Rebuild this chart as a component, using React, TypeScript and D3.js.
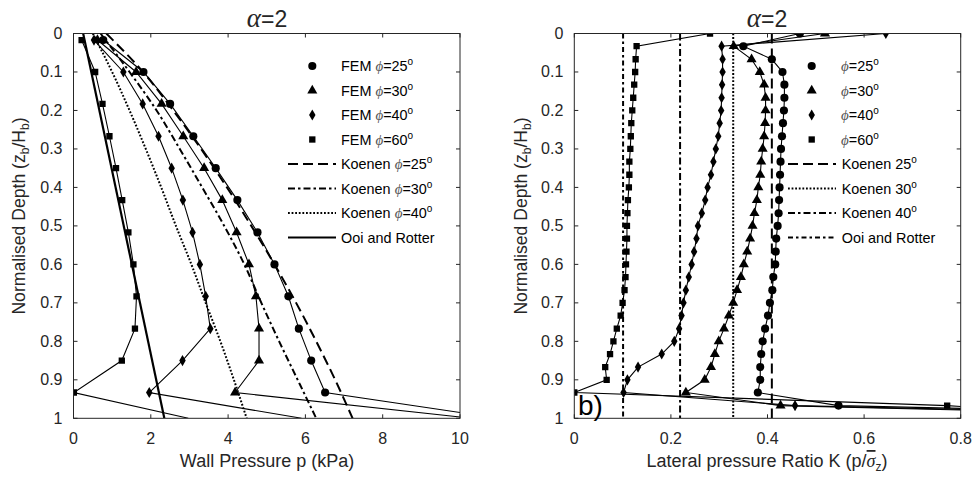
import React from 'react';
import * as d3 from 'd3';

const FONT = '"Liberation Sans", Arial, Helvetica, sans-serif';
const SERIF = '"Liberation Serif", "DejaVu Serif", serif';
const AX = '#262626';

// ---------- Left panel data: wall pressure p (kPa) vs normalised depth ----------
const LEFT_FEM_DEPTH = [0.017, 0.1, 0.183, 0.267, 0.35, 0.433, 0.517, 0.6, 0.683, 0.767, 0.85, 0.933, 1.0];
const LEFT_FEM_P25 = [0.77, 1.81, 2.5, 3.1, 3.68, 4.24, 4.76, 5.2, 5.56, 5.83, 6.15, 6.51, 11.0];
const LEFT_FEM_P30 = [0.62, 1.62, 2.28, 2.84, 3.38, 3.85, 4.22, 4.54, 4.72, 4.8, 4.8, 4.18, 10.3];
const LEFT_FEM_P40 = [0.53, 1.29, 1.79, 2.2, 2.54, 2.83, 3.08, 3.27, 3.42, 3.54, 2.82, 1.96, 5.9];
const LEFT_FEM_P60 = [0.21, 0.56, 0.75, 0.93, 1.1, 1.26, 1.42, 1.55, 1.63, 1.59, 1.25, 0.01, 2.97];

const KOENEN_DEPTH = [0, 0.1, 0.2, 0.3, 0.4, 0.5, 0.6, 0.7, 0.8, 0.9, 1.0];
const KOENEN_P25 = [0.85, 1.8, 2.58, 3.3, 3.97, 4.6, 5.2, 5.76, 6.28, 6.77, 7.22];
const KOENEN_P30 = [0.7, 1.45, 2.15, 2.75, 3.33, 3.9, 4.42, 4.86, 5.32, 5.8, 6.28];
const KOENEN_P40 = [0.5, 1.0, 1.45, 1.87, 2.27, 2.65, 3.05, 3.42, 3.8, 4.15, 4.48];

const OOI_DEPTH = [0, 1];
const OOI_P = [0.25, 2.35];

// ---------- Right panel data: lateral pressure ratio K vs normalised depth ----------
const RIGHT_DEPTH = [0, 0.033, 0.067, 0.1, 0.133, 0.167, 0.2, 0.233, 0.267, 0.3, 0.333, 0.367, 0.4, 0.433, 0.467, 0.5,
  0.533, 0.567, 0.6, 0.633, 0.667, 0.7, 0.733, 0.767, 0.8, 0.833, 0.867, 0.9, 0.933, 0.967, 1.0];
const RIGHT_K25 = [0.467, 0.35, 0.409, 0.431, 0.435, 0.435, 0.434, 0.432, 0.43, 0.428, 0.427, 0.426, 0.425, 0.424, 0.423, 0.421,
  0.418, 0.417, 0.416, 0.412, 0.41, 0.405, 0.401, 0.395, 0.39, 0.387, 0.385, 0.385, 0.38, 0.547, 1.7];
const RIGHT_K30 = [0.519, 0.33, 0.367, 0.384, 0.393, 0.396, 0.396, 0.395, 0.393, 0.39, 0.387, 0.385, 0.381, 0.378, 0.373, 0.369,
  0.364, 0.358, 0.351, 0.345, 0.337, 0.329, 0.32, 0.31, 0.299, 0.291, 0.283, 0.27, 0.231, 0.427, 1.5];
const RIGHT_K40 = [0.645, 0.305, 0.307, 0.307, 0.306, 0.305, 0.304, 0.301, 0.298, 0.293, 0.288, 0.283, 0.276, 0.271, 0.264, 0.256,
  0.253, 0.248, 0.243, 0.237, 0.231, 0.226, 0.222, 0.217, 0.207, 0.181, 0.132, 0.11, 0.102, 0.457, 1.6];
const RIGHT_K60 = [0.281, 0.129, 0.127, 0.126, 0.124, 0.122, 0.12, 0.118, 0.117, 0.116, 0.114, 0.114, 0.113, 0.111, 0.11, 0.109,
  0.109, 0.108, 0.107, 0.106, 0.104, 0.1, 0.096, 0.088, 0.081, 0.074, 0.064, 0.067, 0.0, 0.772, 1.2];

const RIGHT_KOENEN_K = [0.409, 0.329, 0.219];
const RIGHT_OOI_K = 0.101;

// ---------- Ticks ----------
const DEPTH_TICKS = [0, 0.1, 0.2, 0.3, 0.4, 0.5, 0.6, 0.7, 0.8, 0.9, 1];
const DEPTH_TICK_LABELS = ['0', '0.1', '0.2', '0.3', '0.4', '0.5', '0.6', '0.7', '0.8', '0.9', '1'];
const P_TICKS = [0, 2, 4, 6, 8, 10];
const K_TICKS = [0, 0.2, 0.4, 0.6, 0.8];
const K_TICK_LABELS = ['0', '0.2', '0.4', '0.6', '0.8'];

const PHI_LABELS = ['25', '30', '40', '60'];
const MARKERS = ['circle', 'triangle', 'diamond', 'square'];

// ---------- Geometry ----------
const TOP = 33.5, BOTTOM = 418.3;
const L_X0 = 73.5, L_X1 = 460;
const R_X0 = 574.3, R_X1 = 960.7;
const TICK_LEN = 4;

const yScale = d3.scaleLinear().domain([0, 1]).range([TOP, BOTTOM]);
const xLeft = d3.scaleLinear().domain([0, 10]).range([L_X0, L_X1]);
const xRight = d3.scaleLinear().domain([0, 0.8]).range([R_X0, R_X1]);

const symbolTypes: Record<string, any> = {
  circle: d3.symbolCircle,
  triangle: d3.symbolTriangle,
  diamond: d3.symbolDiamond,
  square: d3.symbolSquare,
};
const symbolSizes: Record<string, number> = { circle: 52, triangle: 44, diamond: 36, square: 40 };

function markerPath(kind: string) {
  return d3.symbol().type(symbolTypes[kind]).size(symbolSizes[kind])() as string;
}

const DASH25 = '10,5';
const DASHDOT = '7,3,2.5,3';
const DOTTED = '1.8,1.8';
const DASHDOT_OOI = '5,3,2.5,3';

function Marker({ kind, x, y }: { kind: string; x: number; y: number }) {
  return <path d={markerPath(kind)} transform={`translate(${x},${y})`} fill="#000" />;
}

function PhiText({ prefix, value, x, y }: { prefix: string; value: string; x: number; y: number }) {
  return (
    <text x={x} y={y} fontSize={14.4} fontFamily={FONT} fill="#000">
      {prefix}
      <tspan fontFamily={SERIF} fontStyle="italic" fill="#555" fontSize={15}>{'\u03D5'}</tspan>
      {'=' + value}
      <tspan dy={-6} fontSize={10}>o</tspan>
    </text>
  );
}

function DegText({ label, value, x, y }: { label: string; value: string; x: number; y: number }) {
  return (
    <text x={x} y={y} fontSize={14.4} fontFamily={FONT} fill="#000">
      {label + value}
      <tspan dy={-6} fontSize={10}>o</tspan>
    </text>
  );
}

function AxesFrame({ x, xTicks, xLabels }: { x: d3.ScaleLinear<number, number>; xTicks: number[]; xLabels: string[] }) {
  const [x0, x1] = x.range();
  return (
    <g>
      <rect x={x0} y={TOP} width={x1 - x0} height={BOTTOM - TOP} fill="none" stroke={AX} strokeWidth={1} />
      {xTicks.map((t, i) => (
        <g key={'xt' + i}>
          <line x1={x(t)} x2={x(t)} y1={BOTTOM} y2={BOTTOM - TICK_LEN} stroke={AX} />
          <line x1={x(t)} x2={x(t)} y1={TOP} y2={TOP + TICK_LEN} stroke={AX} />
          <text x={x(t)} y={444} textAnchor="middle" fontSize={16} fontFamily={FONT} fill={AX}>{xLabels[i]}</text>
        </g>
      ))}
      {DEPTH_TICKS.map((t, i) => (
        <g key={'yt' + i}>
          <line x1={x0} x2={x0 + TICK_LEN} y1={yScale(t)} y2={yScale(t)} stroke={AX} />
          <line x1={x1} x2={x1 - TICK_LEN} y1={yScale(t)} y2={yScale(t)} stroke={AX} />
          <text x={x0 - 11} y={yScale(t) + 5.5} textAnchor="end" fontSize={16} fontFamily={FONT} fill={AX}>{DEPTH_TICK_LABELS[i]}</text>
        </g>
      ))}
    </g>
  );
}

function YLabel({ x }: { x: number }) {
  return (
    <text transform={`translate(${x},216) rotate(-90)`} textAnchor="middle" fontSize={17.6} fontFamily={FONT} fill={AX}>
      Normalised Depth (z<tspan dy={4} fontSize={12}>b</tspan><tspan dy={-4}>/H</tspan><tspan dy={4} fontSize={12}>b</tspan><tspan dy={-4}>)</tspan>
    </text>
  );
}

function Title({ cx }: { cx: number }) {
  return (
    <text x={cx} y={27} textAnchor="middle" fontSize={23} fontFamily={FONT} fill={AX}>
      <tspan fontFamily={SERIF} fontStyle="italic" fontSize={27}>{'\u03B1'}</tspan>=2
    </text>
  );
}

export default function App() {
  const lineL = d3.line<[number, number]>().x(d => xLeft(d[0])).y(d => yScale(d[1]));
  const curveL = d3.line<[number, number]>().x(d => xLeft(d[0])).y(d => yScale(d[1])).curve(d3.curveMonotoneY);
  const lineR = d3.line<[number, number]>().x(d => xRight(d[0])).y(d => yScale(d[1]));

  const leftFem = [LEFT_FEM_P25, LEFT_FEM_P30, LEFT_FEM_P40, LEFT_FEM_P60];
  const rightFem = [RIGHT_K25, RIGHT_K30, RIGHT_K40, RIGHT_K60];
  const koenenLeft = [KOENEN_P25, KOENEN_P30, KOENEN_P40];
  const koenenDash = [DASH25, DASHDOT, DOTTED];
  const rightDash = [DASH25, DOTTED, DASHDOT];

  const legendRows = [66, 90.5, 115, 139.5, 164, 188.5, 213, 237.5];

  return (
    <svg width={978} height={480} style={{ position: 'absolute', left: 0, top: 0, background: '#fff' }}>
      <defs>
        <clipPath id="clipL"><rect x={L_X0} y={TOP} width={L_X1 - L_X0} height={BOTTOM - TOP} /></clipPath>
        <clipPath id="clipR"><rect x={R_X0} y={TOP} width={R_X1 - R_X0} height={BOTTOM - TOP} /></clipPath>
      </defs>
      <rect x={0} y={0} width={978} height={480} fill="#fff" />

      {/* ---------------- LEFT PANEL ---------------- */}
      <g clipPath="url(#clipL)">
        {koenenLeft.map((s, i) => (
          <path key={'kl' + i} d={curveL(KOENEN_DEPTH.map((z, j) => [s[j], z] as [number, number])) as string}
            fill="none" stroke="#000" strokeWidth={2} strokeDasharray={koenenDash[i]} />
        ))}
        <path d={lineL(OOI_DEPTH.map((z, j) => [OOI_P[j], z] as [number, number])) as string} fill="none" stroke="#000" strokeWidth={2.2} />
        {leftFem.map((s, i) => (
          <g key={'lf' + i}>
            <path d={lineL(LEFT_FEM_DEPTH.map((z, j) => [s[j], z] as [number, number])) as string} fill="none" stroke="#000" strokeWidth={1.1} />
            {LEFT_FEM_DEPTH.slice(0, -1).map((z, j) => (
              <Marker key={j} kind={MARKERS[i]} x={xLeft(s[j])} y={yScale(z)} />
            ))}
          </g>
        ))}
      </g>
      <AxesFrame x={xLeft} xTicks={P_TICKS} xLabels={P_TICKS.map(String)} />
      <Title cx={267} />
      <YLabel x={25} />
      <text x={267} y={467} textAnchor="middle" fontSize={18} fontFamily={FONT} fill={AX}>Wall Pressure p (kPa)</text>

      {/* left legend */}
      {PHI_LABELS.map((v, i) => (
        <g key={'ll' + i}>
          <Marker kind={MARKERS[i]} x={312.3} y={legendRows[i]} />
          <PhiText prefix="FEM " value={v} x={341} y={legendRows[i] + 5} />
        </g>
      ))}
      {PHI_LABELS.slice(0, 3).map((v, i) => (
        <g key={'lk' + i}>
          <line x1={288} x2={336} y1={legendRows[4 + i]} y2={legendRows[4 + i]} stroke="#000" strokeWidth={2} strokeDasharray={koenenDash[i]} />
          <PhiText prefix="Koenen " value={v} x={341} y={legendRows[4 + i] + 5} />
        </g>
      ))}
      <line x1={288} x2={336} y1={legendRows[7]} y2={legendRows[7]} stroke="#000" strokeWidth={2} />
      <text x={341} y={legendRows[7] + 5} fontSize={14.4} fontFamily={FONT} fill="#000">Ooi and Rotter</text>

      {/* ---------------- RIGHT PANEL ---------------- */}
      <g clipPath="url(#clipR)">
        {RIGHT_KOENEN_K.map((k, i) => (
          <path key={'kr' + i} d={lineR([[k, 0], [k, 1]]) as string} fill="none" stroke="#000" strokeWidth={2} strokeDasharray={rightDash[i]} />
        ))}
        <path d={lineR([[RIGHT_OOI_K, 0], [RIGHT_OOI_K, 1]]) as string} fill="none" stroke="#000" strokeWidth={2} strokeDasharray={DASHDOT_OOI} />
        {rightFem.map((s, i) => (
          <g key={'rf' + i}>
            <path d={lineR(RIGHT_DEPTH.map((z, j) => [s[j], z] as [number, number])) as string} fill="none" stroke="#000" strokeWidth={1.1} />
            {RIGHT_DEPTH.slice(0, -1).map((z, j) => (
              <Marker key={j} kind={MARKERS[i]} x={xRight(s[j])} y={yScale(z)} />
            ))}
          </g>
        ))}
      </g>
      <AxesFrame x={xRight} xTicks={K_TICKS} xLabels={K_TICK_LABELS} />
      <Title cx={767} />
      <YLabel x={527} />
      <text x={767} y={467} textAnchor="middle" fontSize={18} fontFamily={FONT} fill={AX}>
        Lateral pressure Ratio K (p/<tspan fontFamily={SERIF} fontStyle="italic" style={{ textDecoration: 'overline' }}>{'\u03C3'}</tspan><tspan dy={4} fontSize={12}>z</tspan><tspan dy={-4}>)</tspan>
      </text>
      <text x={578} y={415} fontSize={28} fontFamily={FONT} fill="#000">b)</text>

      {/* right legend */}
      {PHI_LABELS.map((v, i) => (
        <g key={'rl' + i}>
          <Marker kind={MARKERS[i]} x={811.7} y={legendRows[i]} />
          <PhiText prefix="" value={v} x={841} y={legendRows[i] + 5} />
        </g>
      ))}
      {PHI_LABELS.slice(0, 3).map((v, i) => (
        <g key={'rk' + i}>
          <line x1={788} x2={836} y1={legendRows[4 + i]} y2={legendRows[4 + i]} stroke="#000" strokeWidth={2} strokeDasharray={rightDash[i]} />
          <DegText label="Koenen " value={v} x={841.7} y={legendRows[4 + i] + 5} />
        </g>
      ))}
      <line x1={788} x2={836} y1={legendRows[7]} y2={legendRows[7]} stroke="#000" strokeWidth={2} strokeDasharray={DASHDOT_OOI} />
      <text x={841.7} y={legendRows[7] + 5} fontSize={14.4} fontFamily={FONT} fill="#000">Ooi and Rotter</text>
    </svg>
  );
}
